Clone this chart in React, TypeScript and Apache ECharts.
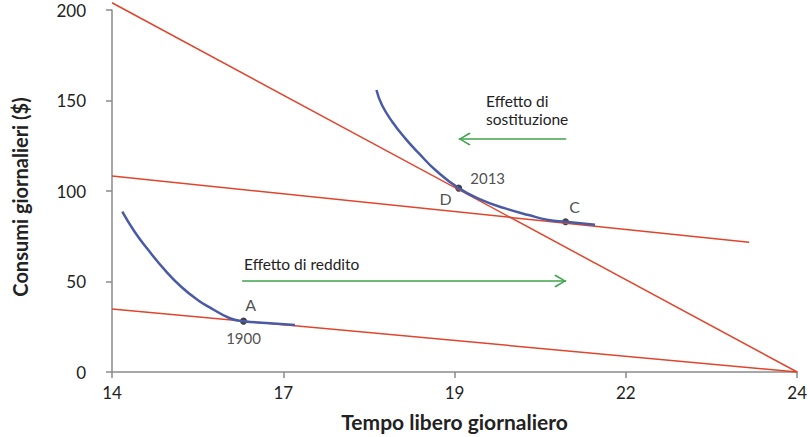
import React, { useEffect, useRef } from "react";
import * as echarts from "echarts";

// Budget lines (hours of free time, daily consumption $)
const budget2013 = [[14, 204], [24, 0]];
const budgetCompensated = [[14, 108.3], [23.3, 71.7]];
const budget1900 = [[14, 34.8], [24, 0]];

// Indifference curves
const curveHighX = [17.86, 17.94, 18.09, 18.28, 18.48, 18.72, 19.06, 19.4, 19.74, 20.08, 20.37, 20.62, 21.05];
const curveHighY = [155.8, 147.5, 138.3, 129.1, 120.8, 111.6, 101.6, 95.0, 90.4, 86.7, 84.0, 83.0, 81.4];
const curveLowX = [14.15, 14.33, 14.53, 14.77, 15.01, 15.25, 15.45, 15.72, 15.92, 16.25, 16.67];
const curveLowY = [88.6, 77.5, 67.4, 56.4, 47.1, 39.8, 35.2, 29.7, 28.1, 27.1, 25.9];

// Choice points
const pointNames = ["A", "D", "C"];
const pointYears = ["1900", "2013", ""];
const pointX = [15.92, 19.06, 20.62];
const pointY = [28.1, 101.6, 83.0];

// Arrows
const substitutionArrow = [[20.63, 128.7], [19.06, 128.7]];
const incomeArrow = [[15.9, 50.3], [20.63, 50.3]];

const xTicks = { min: 14, max: 24, interval: 2.5 };
const yTicks = { min: 0, max: 200, interval: 50 };

const RED = "#e0452c";
const BLUE = "#4a5ba6";
const GREEN = "#3fa34d";
const FONT = "Lato";

const chevLeft = "path://M0,50 L88,0 L100,9 L22,50 L100,91 L88,100 Z";
const chevRight = "path://M100,50 L12,0 L0,9 L78,50 L0,91 L12,100 Z";

function zip(xs: number[], ys: number[]) {
  return xs.map((x, i) => [x, ys[i]]);
}

export default function App() {
  const ref = useRef<HTMLDivElement>(null);
  useEffect(() => {
    if (!ref.current) return;
    const chart = echarts.init(ref.current, undefined, { renderer: "svg" });
    const labelOffsets: Record<string, number[]> = { A: [7, -17], D: [-13, 10], C: [9, -15] };
    const yearOffsets: Record<string, number[]> = { "1900": [0, 17], "2013": [29, -10] };
    const redLine = (data: number[][]) => ({
      type: "line",
      data,
      symbol: "none",
      clip: false,
      lineStyle: { color: RED, width: 1.5 },
      silent: true,
    });
    const arrow = (data: number[][], left: boolean) => ({
      type: "line",
      data: [
        { value: data[0], symbol: "none" },
        {
          value: data[1],
          symbol: left ? chevLeft : chevRight,
          symbolSize: [12, 13],
          symbolOffset: left ? [6, 0] : [-6, 0],
        },
      ],
      showSymbol: true,
      symbol: "none",
      lineStyle: { color: GREEN, width: 1.5 },
      itemStyle: { color: GREEN, borderWidth: 0 },
      silent: true,
    });
    chart.setOption({
      animation: false,
      textStyle: { fontFamily: FONT },
      grid: { left: 112, right: 10, top: 10, bottom: 65 },
      xAxis: {
        type: "value",
        min: xTicks.min,
        max: xTicks.max,
        interval: xTicks.interval,
        name: "Tempo libero giornaliero",
        nameLocation: "middle",
        nameGap: 39,
        nameTextStyle: { fontSize: 21, fontWeight: "bold", color: "#222", fontFamily: FONT },
        axisLine: { lineStyle: { color: "#8a8a8a", width: 1.5 } },
        axisTick: { show: true, length: 6, lineStyle: { color: "#8a8a8a", width: 1.5 } },
        axisLabel: {
          color: "#222",
          fontSize: 17,
          margin: 12,
          formatter: (v: number) => String(Math.round(v)),
        },
        splitLine: { show: false },
      },
      yAxis: {
        type: "value",
        min: yTicks.min,
        max: yTicks.max,
        interval: yTicks.interval,
        name: "Consumi giornalieri ($)",
        nameLocation: "middle",
        nameGap: 82,
        nameRotate: 90,
        nameTextStyle: {
          fontSize: 20,
          fontWeight: "bold",
          color: "#222",
          fontFamily: FONT,
          padding: [0, 12, 0, 0],
        },
        axisLine: { show: true, lineStyle: { color: "#8a8a8a", width: 1.5 } },
        axisTick: { show: true, length: 6, lineStyle: { color: "#8a8a8a", width: 1.5 } },
        axisLabel: { color: "#222", fontSize: 17, margin: 26 },
        splitLine: { show: false },
      },
      series: [
        redLine(budget2013),
        redLine(budgetCompensated),
        redLine(budget1900),
        {
          type: "line",
          data: zip(curveHighX, curveHighY),
          smooth: true,
          symbol: "none",
          lineStyle: { color: BLUE, width: 2.5 },
          silent: true,
        },
        {
          type: "line",
          data: zip(curveLowX, curveLowY),
          smooth: true,
          symbol: "none",
          lineStyle: { color: BLUE, width: 2.5 },
          silent: true,
        },
        arrow(substitutionArrow, true),
        arrow(incomeArrow, false),
        {
          type: "scatter",
          data: pointX.map((x, i) => ({
            value: [x, pointY[i]],
            label: { offset: labelOffsets[pointNames[i]] },
          })),
          symbolSize: 7,
          itemStyle: { color: "#111" },
          label: {
            show: true,
            position: "inside",
            color: "#222",
            fontSize: 16,
            fontFamily: FONT,
            formatter: (p: any) => pointNames[p.dataIndex],
          },
          silent: true,
        },
        {
          type: "scatter",
          data: pointX
            .map((x, i) => ({ i, x }))
            .filter((d) => pointYears[d.i] !== "")
            .map((d) => ({
              value: [d.x, pointY[d.i]],
              name: pointYears[d.i],
              label: { offset: yearOffsets[pointYears[d.i]] },
            })),
          symbolSize: 0,
          itemStyle: { color: "transparent" },
          label: {
            show: true,
            position: "inside",
            color: "#222",
            fontSize: 15,
            fontFamily: FONT,
            formatter: (p: any) => p.name,
          },
          silent: true,
          z: 3,
        },
      ],
      graphic: [
        {
          type: "text",
          left: 486,
          top: 92,
          style: {
            text: "Effetto di\nsostituzione",
            fontSize: 15.5,
            lineHeight: 18,
            fill: "#222",
            fontFamily: FONT,
          },
        },
        {
          type: "text",
          left: 244,
          top: 256,
          style: { text: "Effetto di reddito", fontSize: 15.5, fill: "#222", fontFamily: FONT },
        },
      ],
    });
    return () => chart.dispose();
  }, []);
  return (
    <div
      ref={ref}
      style={{ position: "fixed", left: 0, top: 0, width: 810, height: 437, background: "#fff" }}
    />
  );
}
